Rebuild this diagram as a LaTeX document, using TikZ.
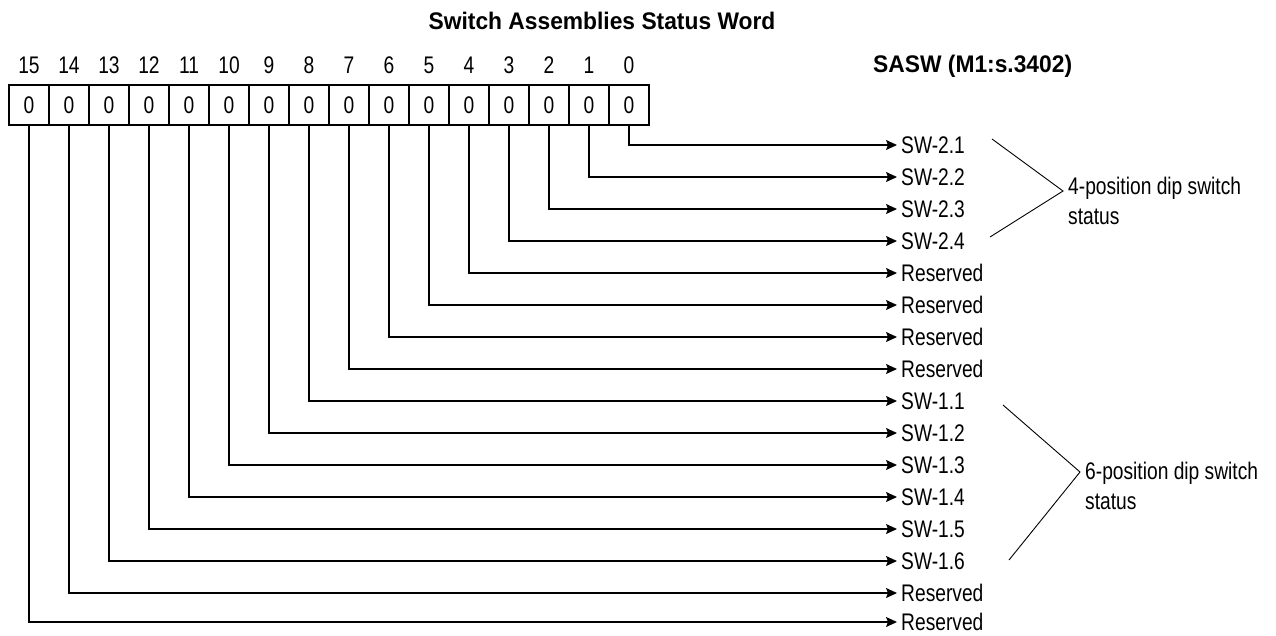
\documentclass[tikz,border=0pt]{standalone}
\usepackage{fontspec}
\setmainfont{Liberation Sans}[FakeStretch=0.8]
\newfontfamily\titlefont{Liberation Sans}[FakeStretch=0.95]
\usetikzlibrary{arrows.meta}
\begin{document}
\begin{tikzpicture}[x=1pt,y=-1pt,
  cell/.style={draw,line width=1.2pt,minimum width=40pt,minimum height=40pt,inner sep=0pt,font=\fontsize{24}{28}\selectfont},
  bitno/.style={inner sep=0pt,font=\fontsize{24}{28}\selectfont},
  lab/.style={anchor=west,inner sep=0pt,inner xsep=4pt,font=\fontsize{24}{28}\selectfont},
  conn/.style={line width=1.3pt,-{Stealth[length=11pt,width=10pt,inset=2pt]}},
  brace/.style={line width=0.9pt},
  note/.style={anchor=west,align=left,inner sep=0pt,font=\fontsize{24}{30}\selectfont},
  hdr/.style={inner sep=0pt,font=\titlefont\bfseries\fontsize{24}{28}\selectfont}]
\useasboundingbox (0,0) rectangle (1276,635);
\node[hdr] (title) at (602,21) {Switch Assemblies Status Word};
\node[hdr,anchor=west] (sasw) at (873,66) {SASW (M1:s.3402)};
\foreach \i in {0,...,15}{
  \node[cell] (c\i) at ({629-40*\i},105) {0};
  \node[bitno] (b\i) at ({629-40*\i},65) {\i};
}
\foreach \i/\t in {0/SW-2.1,1/SW-2.2,2/SW-2.3,3/SW-2.4,4/Reserved,5/Reserved,6/Reserved,7/Reserved,8/SW-1.1,9/SW-1.2,10/SW-1.3,11/SW-1.4,12/SW-1.5,13/SW-1.6,14/Reserved}{
  \node[lab] (l\i) at (897,{145+32*\i}) {\t};
}
\node[lab] (l15) at (897,622) {Reserved};
\foreach \i in {0,...,15}{
  \draw[conn] (c\i.south) |- (l\i.west);
}
\coordinate (u4) at (992,139);
\coordinate (a4) at (1063,191);
\coordinate (d4) at (990,237);
\draw[brace] (u4) -- (a4) -- (d4);
\node[note] (n4) at (1068,201) {4-position dip switch\\status};
\coordinate (u6) at (1003,405);
\coordinate (a6) at (1080,472);
\coordinate (d6) at (1009,560);
\draw[brace] (u6) -- (a6) -- (d6);
\node[note] (n6) at (1085,486) {6-position dip switch\\status};
\end{tikzpicture}
\end{document}
